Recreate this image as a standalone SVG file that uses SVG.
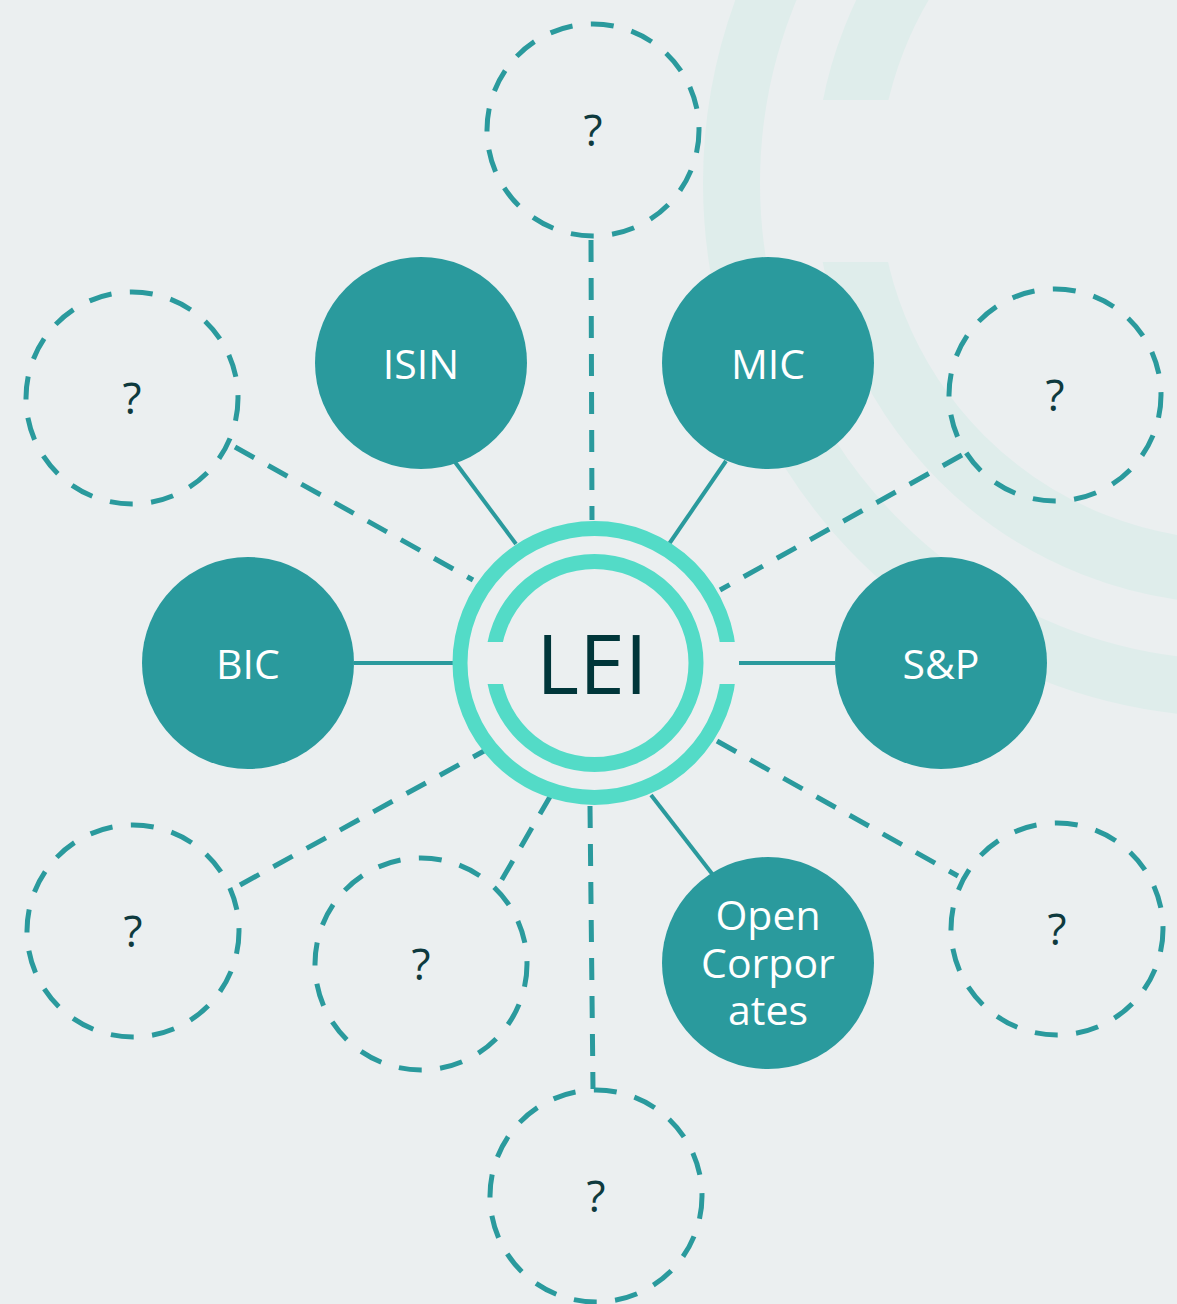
<svg xmlns="http://www.w3.org/2000/svg" width="1177" height="1304" viewBox="0 0 1177 1304">
<defs>
<style>
.bgring{fill:none;stroke:#DFEDEB}
.ring{fill:none;stroke:#53DBC7;stroke-width:15}
.node{fill:#2A9A9D}
.ghost{fill:none;stroke:#2A9A9D;stroke-width:5;stroke-dasharray:23 18.4}
.solid{stroke:#2A9A9D;stroke-width:4;fill:none}
.dash{stroke:#2A9A9D;stroke-width:5;fill:none;stroke-dasharray:22 16}
.lbl{font-family:"Open Sans","Noto Sans",sans-serif;font-size:41px;fill:#FFFFFF;text-anchor:middle}
.q{font-family:"Open Sans","Noto Sans",sans-serif;font-size:44px;fill:#0E3A3E;text-anchor:middle}
.lei{font-family:"Open Sans","Noto Sans",sans-serif;font-size:82px;fill:#00363A;text-anchor:middle}
</style>
<mask id="bgmask">
<rect x="0" y="0" width="1177" height="1304" fill="#fff"/>
<rect x="800" y="100" width="100" height="162" fill="#000"/>
</mask>
<mask id="leimask">
<rect x="0" y="0" width="1177" height="1304" fill="#fff"/>
<rect x="710" y="642" width="40" height="42" fill="#000"/>
<rect x="470" y="642" width="40" height="42" fill="#000"/>
</mask>
</defs>
<rect x="0" y="0" width="1177" height="1304" fill="#EBEFF0"/>
<g id="background">
<circle class="bgring" cx="1237" cy="183" r="505.5" stroke-width="57"/>
<circle class="bgring" cx="1237" cy="182" r="390" stroke-width="64" mask="url(#bgmask)"/>
</g>
<g id="connectors">
<line class="solid" x1="455" y1="462" x2="516" y2="544"/>
<line class="solid" x1="726" y1="461" x2="669" y2="544"/>
<line class="solid" x1="354" y1="663" x2="453" y2="663"/>
<line class="solid" x1="739" y1="663" x2="835" y2="663"/>
<line class="solid" x1="651" y1="795" x2="713" y2="875"/>
<line class="dash" x1="591" y1="240" x2="592" y2="520"/>
<line class="dash" x1="235" y1="447" x2="473" y2="580"/>
<line class="dash" x1="962" y1="455" x2="720" y2="590"/>
<line class="dash" x1="240" y1="885" x2="484" y2="751"/>
<line class="dash" x1="551" y1="795" x2="497" y2="888"/>
<line class="dash" x1="717" y1="741" x2="958" y2="876"/>
<line class="dash" x1="590" y1="806" x2="593" y2="1089"/>
</g>
<g id="lei">
<g mask="url(#leimask)">
<circle class="ring" cx="594.5" cy="663" r="134.5"/>
<circle class="ring" cx="594.5" cy="663" r="101.5"/>
</g>
<text class="lei" x="592" y="694">LEI</text>
</g>
<g id="isin"><circle class="node" cx="421" cy="363" r="106"/><text class="lbl" x="421" y="379">ISIN</text></g>
<g id="mic"><circle class="node" cx="768" cy="363" r="106"/><text class="lbl" x="768" y="379">MIC</text></g>
<g id="bic"><circle class="node" cx="248" cy="663" r="106"/><text class="lbl" x="248" y="679">BIC</text></g>
<g id="sp"><circle class="node" cx="941" cy="663" r="106"/><text class="lbl" x="941" y="679">S&amp;P</text></g>
<g id="opencorporates"><circle class="node" cx="768" cy="963" r="106"/>
<text class="lbl" x="768" y="930">Open</text>
<text class="lbl" x="768" y="978">Corpor</text>
<text class="lbl" x="768" y="1025">ates</text>
</g>
<g id="q-top"><circle class="ghost" cx="593" cy="130" r="106"/><text class="q" x="593" y="146">?</text></g>
<g id="q-upper-left"><circle class="ghost" cx="132" cy="398" r="106"/><text class="q" x="132" y="414">?</text></g>
<g id="q-upper-right"><circle class="ghost" cx="1055" cy="395" r="106"/><text class="q" x="1055" y="411">?</text></g>
<g id="q-lower-left"><circle class="ghost" cx="133" cy="931" r="106"/><text class="q" x="133" y="947">?</text></g>
<g id="q-lower-mid"><circle class="ghost" cx="421" cy="964" r="106"/><text class="q" x="421" y="980">?</text></g>
<g id="q-lower-right"><circle class="ghost" cx="1057" cy="929" r="106"/><text class="q" x="1057" y="945">?</text></g>
<g id="q-bottom"><circle class="ghost" cx="596" cy="1196" r="106"/><text class="q" x="596" y="1212">?</text></g>
</svg>
